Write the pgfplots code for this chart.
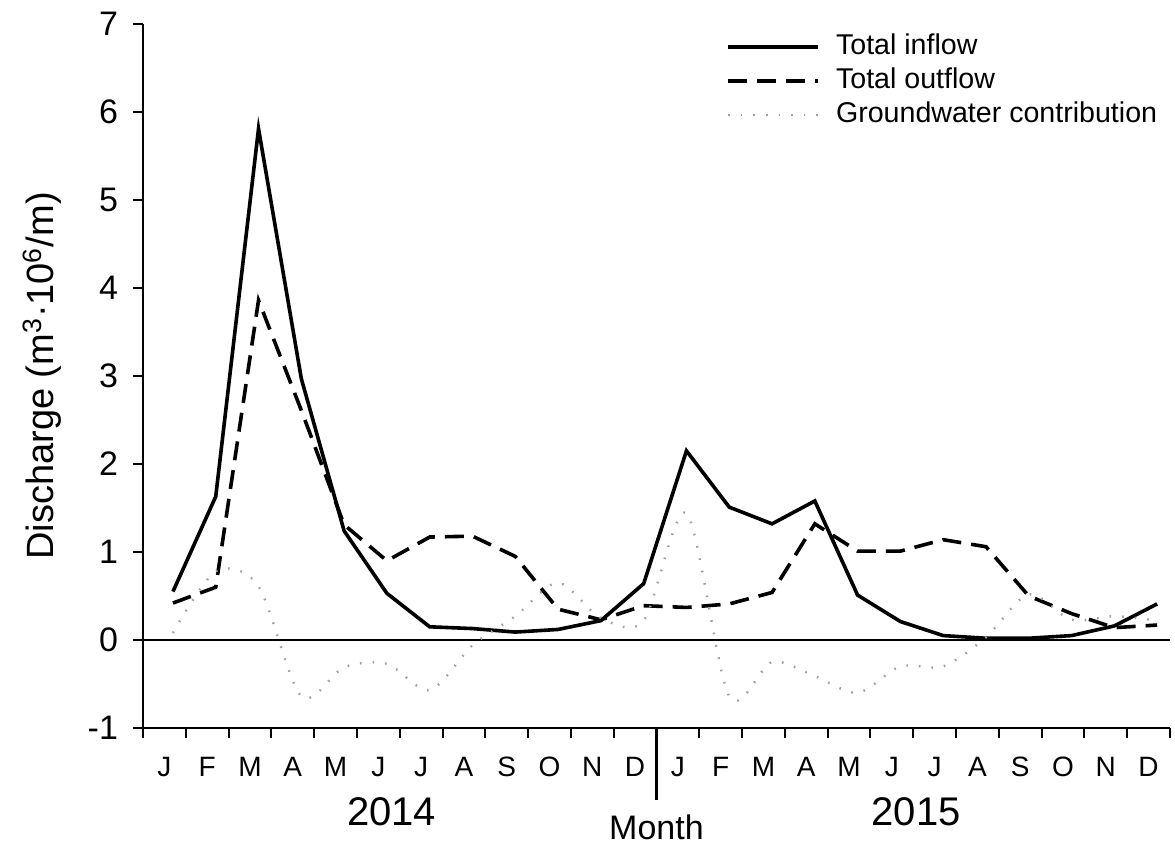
\documentclass[border=0pt]{standalone}
\usepackage{fontspec}
\setmainfont{Liberation Sans}
\usepackage{pgfplots}
\usepackage{pgfplotstable}
\pgfplotsset{compat=1.18}

\pgfplotstableread{
x    inflow outflow gw
0.7  0.55  0.42  0.08
1.7  1.63  0.60  0.78
2.7  5.81  3.86  0.61
3.7  2.97  2.61 -0.64
4.7  1.24  1.31 -0.31
5.7  0.53  0.90 -0.27
6.7  0.15  1.17 -0.57
7.7  0.13  1.18 -0.06
8.7  0.09  0.95  0.27
9.7  0.12  0.35  0.65
10.7 0.22  0.23  0.25
11.7 0.64  0.39  0.22
12.7 2.15  0.37  1.44
13.7 1.51  0.41 -0.64
14.7 1.32  0.54 -0.25
15.7 1.58  1.32 -0.41
16.7 0.51  1.01 -0.60
17.7 0.21  1.01 -0.30
18.7 0.05  1.14 -0.30
19.7 0.02  1.06  0.03
20.7 0.02  0.50  0.52
21.7 0.05  0.30  0.23
22.7 0.16  0.14  0.27
23.7 0.41  0.17  0.22
}\datatable

\begin{document}
\begin{tikzpicture}
\useasboundingbox (-71.5pt,-59pt) rectangle (516pt,364pt);
\begin{axis}[
  at={(0pt,0pt)}, anchor=south west,
  scale only axis, width=513.5pt, height=352pt,
  xmin=0, xmax=24, ymin=-1, ymax=7,
  axis lines*=left,
  axis line style={line width=1pt},
  tick align=outside,
  major tick length=5pt,
  tick style={line width=1pt, black},
  xtick={0,...,24},
  x tick label as interval,
  xticklabels={J,F,M,A,M,J,J,A,S,O,N,D,J,F,M,A,M,J,J,A,S,O,N,D},
  ytick={-1,0,...,7},
  yticklabels={-1,0,1,2,3,4,5,6,7},
  xticklabel style={font=\fontsize{14}{16}\selectfont, yshift=-6pt},
  yticklabel style={font=\fontsize{17}{19}\selectfont, xshift=-4pt},
  ylabel={Discharge (m\textsuperscript{3}·10\textsuperscript{6}/m)},
  ylabel style={at={(axis description cs:-0.0983,0.5)}, anchor=center, font=\fontsize{19}{22}\selectfont},
  clip=false,
  legend style={at={(axis description cs:0.5677,0.992)}, anchor=north west, draw=none, fill=none,
    inner sep=0pt, column sep=6pt,
    font=\fontsize{14.3}{16}\selectfont,
    nodes={inner sep=2pt, text height=10pt, text depth=3pt}},
  legend cell align=left,
  legend image code/.code={\draw[#1] (0pt,0pt) -- (45pt,0pt);},
]
\addplot[black, line width=1.3pt, forget plot] coordinates {(0,0) (24,0)};
\addplot[black, line width=1.8pt] table[x=x, y=inflow] {\datatable};
\addlegendentry{Total inflow}
\addplot[black, line width=1.8pt, dash pattern=on 9.5pt off 5pt] table[x=x, y=outflow] {\datatable};
\addlegendentry{Total outflow}
\addplot[gray!75, line width=1.2pt, dash pattern=on 0.8pt off 5.5pt, smooth] table[x=x, y=gw] {\datatable};
\addlegendentry{Groundwater contribution}
\draw[line width=1.5pt] (axis cs:12,-1) -- ++(0pt,-36pt);
\node[font=\fontsize{20}{22}\selectfont] at ([yshift=-42pt]axis cs:5.81,-1) {2014};
\node[font=\fontsize{20}{22}\selectfont] at ([yshift=-42pt]axis cs:18.07,-1) {2015};
\node[font=\fontsize{17}{19}\selectfont] at ([yshift=-49.5pt]axis cs:12,-1) {Month};
\end{axis}
\end{tikzpicture}
\end{document}
